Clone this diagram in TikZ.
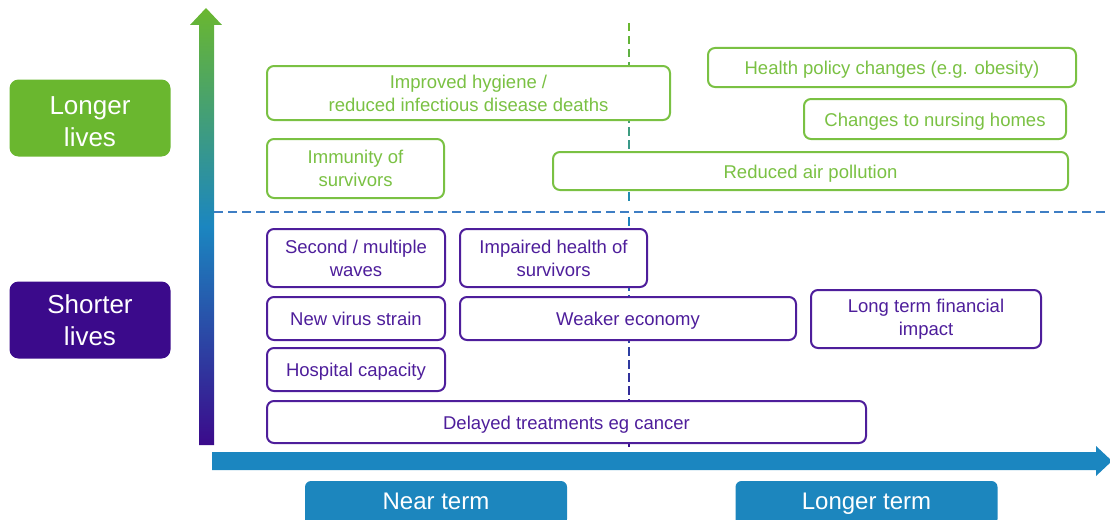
\documentclass[tikz,border=0pt]{standalone}
\usepackage{fontspec}
\setmainfont{Liberation Sans}
\usetikzlibrary{positioning, calc}
\definecolor{LifeGreen}{RGB}{106, 183, 47}
\definecolor{BoxGreen}{RGB}{122, 193, 67}
\definecolor{LifePurple}{RGB}{59, 10, 139}
\definecolor{BoxPurple}{RGB}{78, 30, 155}
\definecolor{AxisBlue}{RGB}{27, 134, 192}
\definecolor{DashBlue}{RGB}{62, 126, 196}
\definecolor{TermBlue}{RGB}{28, 134, 190}

\begin{document}
\begin{tikzpicture}[x=1pt, y=-1pt,
    greenbox/.style={draw=BoxGreen, text=BoxGreen, fill=white, line width=2pt, rounded corners=7pt, align=center, inner sep=0pt, font=\fontsize{18.5}{23}\selectfont},
    purplebox/.style={draw=BoxPurple, text=BoxPurple, fill=white, line width=2pt, rounded corners=7pt, align=center, inner sep=0pt, font=\fontsize{18.5}{23}\selectfont},
    oneline/.style={text height=15pt, text depth=1pt},
    sidelabel/.style={rounded corners=9pt, text=white, align=center, inner sep=0pt, minimum width=161pt, minimum height=77pt, font=\fontsize{26}{32}\selectfont},
    termlabel/.style={fill=TermBlue, rounded corners=6pt, text=white, inner sep=0pt, text height=17pt, text depth=5pt, minimum width=262pt, minimum height=44pt, font=\fontsize{24}{28}\selectfont}]
    \useasboundingbox (0,0) rectangle (1110,519);
    \def\mx{629}
    % dividers
    \draw[DashBlue, line width=2.5pt, dash pattern=on 9pt off 5pt] (214,212) -- (1110,212);
    \foreach \y in {23,36,...,204} {
        \pgfmathtruncatemacro\p{100-(\y-23)/1.89}
        \draw[LifeGreen!\p!AxisBlue, line width=2.5pt] (\mx,\y) -- (\mx,\y+8.5);
    }
    \foreach \y in {217,230,...,445} {
        \pgfmathtruncatemacro\p{100-(\y-212)/2.4}
        \draw[AxisBlue!\p!LifePurple, line width=2.5pt] (\mx,\y) -- (\mx,\y+8.5);
    }
    % axes
    \shade[top color=LifeGreen, bottom color=LifePurple, middle color=AxisBlue] (199,445) -- (199,25) -- (190,25) -- (206,8) -- (222,25) -- (214,25) -- (214,445) -- cycle;
    \fill[AxisBlue] (212,452) -- (1096,452) -- (1096,446) -- (1112,461) -- (1096,476) -- (1096,470) -- (212,470) -- cycle;
    % side and term labels
    \node[sidelabel, fill=LifeGreen, text height=57pt, text depth=0pt] (longer) at (90,118) {Longer\\lives};
    \node[sidelabel, fill=LifePurple] (shorter) at (90,320) {Shorter\\lives};
    \node[termlabel] (near) at (436,503) {Near term};
    \node[termlabel] (later) at (866.5,503) {Longer term};
    % longer lives
    \node[greenbox, minimum width=403pt, minimum height=54pt] (hygiene) at (468.5,93) {Improved hygiene /\\reduced infectious disease deaths};
    \node[greenbox, oneline, minimum width=368pt, minimum height=39pt] (policy) at (892,67.5) {Health policy changes (e.g. obesity)};
    \node[greenbox, oneline, minimum width=262pt, minimum height=40pt] (nursing) at (935,119) {Changes to nursing homes};
    \node[greenbox, minimum width=177pt, minimum height=59pt] (immunity) at (355.5,168.5) {Immunity of\\survivors};
    \node[greenbox, oneline, minimum width=515pt, minimum height=38pt] (air) at (810.5,171) {Reduced air pollution};
    % shorter lives
    \node[purplebox, minimum width=178pt, minimum height=58pt] (waves) at (356,258) {Second / multiple\\waves};
    \node[purplebox, minimum width=187pt, minimum height=58pt] (impaired) at (553.5,258) {Impaired health of\\survivors};
    \node[purplebox, oneline, minimum width=178pt, minimum height=43pt] (strain) at (356,318.5) {New virus strain};
    \node[purplebox, oneline, minimum width=336pt, minimum height=43pt] (economy) at (628,318.5) {Weaker economy};
    \node[purplebox, minimum width=230pt, minimum height=58pt] (finance) at (926,319) {Long term financial\\impact};
    \node[purplebox, oneline, minimum width=178pt, minimum height=43pt] (hospital) at (356,369.5) {Hospital capacity};
    \node[purplebox, oneline, minimum width=599pt, minimum height=42pt] (delayed) at (566.5,422) {Delayed treatments eg cancer};
\end{tikzpicture}
\end{document}
